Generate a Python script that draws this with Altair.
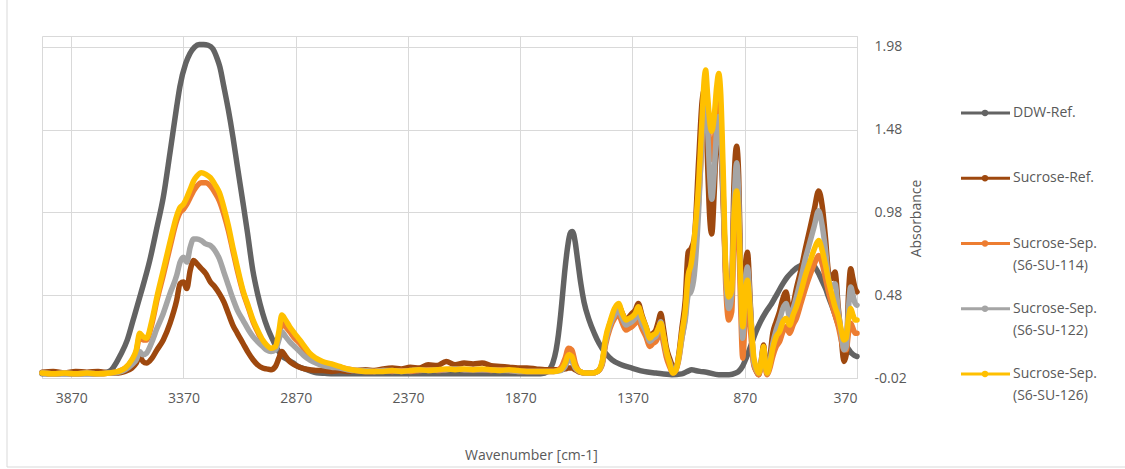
import altair as alt
import pandas as pd

# Series names, colours and legend text
series_names = [
    "DDW-Ref.",
    "Sucrose-Ref.",
    "Sucrose-Sep. (S6-SU-114)",
    "Sucrose-Sep. (S6-SU-122)",
    "Sucrose-Sep. (S6-SU-126)",
]
series_colors = ["#636363", "#9E480E", "#ED7D31", "#A5A5A5", "#FFC000"]
legend_line1 = ["DDW-Ref.", "Sucrose-Ref.", "Sucrose-Sep.", "Sucrose-Sep.", "Sucrose-Sep."]
legend_line2 = ["", "", "(S6-SU-114)", "(S6-SU-122)", "(S6-SU-126)"]

x_ticks = [3870, 3370, 2870, 2370, 1870, 1370, 870, 370]
y_ticks = [-0.02, 0.48, 0.98, 1.48, 1.98]

# DDW reference spectrum: wavenumber (cm-1) and absorbance
ddw_wn = [4000, 3900, 3800, 3740, 3710, 3690, 3670, 3650, 3620, 3594,
          3560, 3520, 3488, 3460, 3430, 3400, 3386, 3360, 3341, 3320,
          3300, 3280, 3260, 3240, 3220, 3208, 3190, 3170, 3150, 3130,
          3105, 3085, 3061, 3040, 3017, 2995, 2972, 2950, 2928, 2905,
          2880, 2860, 2830, 2800, 2777, 2740, 2700, 2600, 2500, 2400,
          2300, 2200, 2100, 2000, 1900, 1800, 1760, 1740, 1725, 1710,
          1700, 1690, 1683, 1672, 1662, 1652, 1645, 1639, 1632, 1625,
          1615, 1600, 1586, 1563, 1540, 1519, 1490, 1461, 1420, 1372,
          1320, 1266, 1195, 1150, 1125, 1106, 1090, 1070, 1040, 986,
          940, 910, 897, 880, 870, 855, 839, 820, 800, 775,
          750, 725, 700, 680, 660, 640, 620, 600, 585, 570,
          555, 540, 525, 510, 497, 483, 470, 453, 440, 430,
          420, 408, 398, 390, 380, 370]
ddw_abs = [0.005, 0.005, 0.005, 0.008, 0.015, 0.03, 0.07, 0.12, 0.21, 0.33,
           0.49, 0.69, 0.89, 1.07, 1.34, 1.62, 1.74, 1.88, 1.94, 1.98,
           1.995, 1.995, 1.99, 1.97, 1.91, 1.86, 1.74, 1.60, 1.44, 1.26,
           1.04, 0.86, 0.63, 0.49, 0.37, 0.28, 0.21, 0.15, 0.11, 0.09,
           0.07, 0.05, 0.035, 0.02, 0.012, 0.008, 0.005, 0.005, 0.005, 0.005,
           0.005, 0.005, 0.005, 0.005, 0.005, 0.005, 0.01, 0.03, 0.07, 0.15,
           0.24, 0.36, 0.46, 0.62, 0.74, 0.83, 0.86, 0.865, 0.85, 0.80,
           0.70, 0.55, 0.44, 0.33, 0.25, 0.19, 0.13, 0.09, 0.06, 0.04,
           0.02, 0.01, 0.0, 0.005, 0.02, 0.03, 0.025, 0.02, 0.015, 0.0,
           0.0, 0.01, 0.02, 0.05, 0.08, 0.13, 0.19, 0.26, 0.32, 0.38,
           0.43, 0.49, 0.55, 0.59, 0.62, 0.645, 0.66, 0.67, 0.675, 0.67,
           0.645, 0.61, 0.565, 0.52, 0.47, 0.42, 0.37, 0.30, 0.25, 0.21,
           0.18, 0.155, 0.135, 0.125, 0.115, 0.11]

# Shared wavenumber grid for the sucrose spectra, 4000-1800 cm-1
hi_wn = [4000, 3950, 3900, 3850, 3800, 3750, 3700, 3660, 3630, 3600,
         3580, 3565, 3550, 3535, 3510, 3488, 3460, 3430, 3400, 3385,
         3370, 3355, 3340, 3325, 3310, 3290, 3270, 3250, 3230, 3210,
         3190, 3170, 3150, 3130, 3105, 3080, 3060, 3040, 3017, 3000,
         2980, 2960, 2945, 2932, 2915, 2897, 2875, 2852, 2830, 2808,
         2780, 2750, 2710, 2675, 2640, 2600, 2560, 2520, 2480, 2440,
         2400, 2360, 2320, 2280, 2240, 2200, 2160, 2120, 2080, 2040,
         2000, 1960, 1920, 1880, 1840, 1800]

# Fingerprint grid, 1760-370 cm-1
fp_wn = [1760, 1720, 1690, 1670, 1655, 1640, 1625, 1605, 1580, 1550,
         1525, 1505, 1490, 1470, 1450, 1432, 1415, 1399, 1385, 1372,
         1358, 1344, 1328, 1310, 1292, 1278, 1266, 1255, 1244, 1232,
         1220, 1205, 1190, 1176, 1164, 1150, 1135, 1122, 1110, 1095,
         1075, 1060, 1050, 1044, 1036, 1026, 1017, 1006, 995, 986,
         977, 965, 955, 941, 928, 918, 906, 897, 888, 879,
         866, 858, 844, 830, 818, 808, 796, 786, 778, 770,
         760, 745, 730, 715, 700, 686, 670, 655, 640, 620,
         600, 580, 560, 541, 525, 510, 497, 483, 468, 453,
         440, 428, 418, 408, 398, 388, 378, 370]

ref_hi = [0.015, 0.02, 0.01, 0.02, 0.015, 0.02, 0.01, 0.01, 0.02, 0.04,
          0.07, 0.11, 0.08, 0.07, 0.10, 0.15, 0.21, 0.31, 0.45, 0.55,
          0.56, 0.52, 0.63, 0.69, 0.67, 0.64, 0.61, 0.56, 0.53, 0.49,
          0.44, 0.37, 0.30, 0.25, 0.19, 0.13, 0.09, 0.06, 0.04, 0.035,
          0.03, 0.05, 0.10, 0.14, 0.11, 0.08, 0.06, 0.045, 0.035, 0.03,
          0.025, 0.025, 0.02, 0.025, 0.02, 0.025, 0.03, 0.025, 0.035, 0.04,
          0.035, 0.045, 0.04, 0.06, 0.055, 0.08, 0.06, 0.07, 0.065, 0.07,
          0.055, 0.05, 0.045, 0.04, 0.04, 0.035]
ref_fp = [0.03, 0.03, 0.03, 0.035, 0.04, 0.04, 0.03, 0.015, 0.01, 0.01,
          0.02, 0.07, 0.20, 0.31, 0.38, 0.42, 0.37, 0.33, 0.35, 0.37,
          0.39, 0.43, 0.36, 0.29, 0.23, 0.25, 0.27, 0.32, 0.37, 0.28,
          0.17, 0.10, 0.05, 0.04, 0.12, 0.28, 0.45, 0.74, 0.76, 0.82,
          1.30, 1.65, 1.72, 1.66, 1.30, 0.95, 0.85, 1.10, 1.45, 1.50,
          1.38, 1.00, 0.62, 0.42, 0.55, 1.15, 1.38, 1.20, 0.62, 0.20,
          0.66, 0.74, 0.40, 0.07, 0.02, 0.0, 0.09, 0.18, 0.07, 0.02,
          0.08, 0.25, 0.32, 0.38, 0.46, 0.50, 0.38, 0.42, 0.52, 0.63,
          0.76, 0.88, 1.00, 1.11, 1.02, 0.82, 0.62, 0.58, 0.62, 0.40,
          0.22, 0.08, 0.12, 0.48, 0.64, 0.58, 0.52, 0.50]

su114_hi = [0.01, 0.005, 0.01, 0.005, 0.01, 0.005, 0.01, 0.02, 0.04, 0.085,
            0.14, 0.23, 0.21, 0.21, 0.31, 0.45, 0.60, 0.77, 0.93, 0.98,
            1.00, 1.03, 1.07, 1.11, 1.14, 1.16, 1.16, 1.14, 1.10, 1.05,
            0.97, 0.87, 0.75, 0.63, 0.50, 0.40, 0.32, 0.26, 0.20, 0.17,
            0.15, 0.16, 0.23, 0.31, 0.29, 0.26, 0.22, 0.19, 0.15, 0.12,
            0.09, 0.07, 0.055, 0.045, 0.035, 0.025, 0.02, 0.02, 0.025, 0.02,
            0.025, 0.02, 0.025, 0.03, 0.025, 0.03, 0.035, 0.03, 0.03, 0.03,
            0.025, 0.03, 0.025, 0.02, 0.02, 0.02]
su114_fp = [0.02, 0.02, 0.04, 0.10, 0.16, 0.15, 0.07, 0.02, 0.01, 0.01,
            0.02, 0.06, 0.18, 0.28, 0.34, 0.36, 0.31, 0.27, 0.28, 0.29,
            0.31, 0.33, 0.28, 0.23, 0.17, 0.19, 0.20, 0.23, 0.26, 0.19,
            0.11, 0.05, 0.01, 0.03, 0.09, 0.22, 0.35, 0.55, 0.60, 0.75,
            1.05, 1.42, 1.62, 1.66, 1.56, 1.40, 1.30, 1.40, 1.58, 1.66,
            1.55, 1.05, 0.55, 0.33, 0.38, 0.82, 1.02, 0.85, 0.40, 0.10,
            0.40, 0.48, 0.26, 0.06, 0.02, 0.0, 0.06, 0.14, 0.04, 0.0,
            0.03, 0.11, 0.17, 0.20, 0.26, 0.29, 0.25, 0.30, 0.34, 0.43,
            0.52, 0.60, 0.67, 0.72, 0.67, 0.58, 0.50, 0.43, 0.36, 0.29,
            0.21, 0.15, 0.15, 0.25, 0.31, 0.28, 0.25, 0.25]

su122_hi = [0.01, 0.005, 0.01, 0.005, 0.01, 0.005, 0.01, 0.015, 0.03, 0.06,
            0.09, 0.14, 0.12, 0.13, 0.20, 0.28, 0.37, 0.49, 0.60, 0.68,
            0.71, 0.68, 0.77, 0.82, 0.82, 0.81, 0.79, 0.78, 0.75, 0.70,
            0.62, 0.54, 0.46, 0.39, 0.33, 0.27, 0.23, 0.20, 0.17, 0.15,
            0.14, 0.15, 0.21, 0.26, 0.23, 0.20, 0.17, 0.14, 0.11, 0.09,
            0.07, 0.055, 0.045, 0.04, 0.03, 0.025, 0.025, 0.02, 0.025, 0.025,
            0.02, 0.025, 0.03, 0.025, 0.03, 0.03, 0.035, 0.03, 0.03, 0.03,
            0.03, 0.025, 0.025, 0.02, 0.02, 0.02]
su122_fp = [0.02, 0.02, 0.025, 0.05, 0.09, 0.08, 0.04, 0.02, 0.01, 0.01,
            0.02, 0.07, 0.20, 0.30, 0.36, 0.39, 0.34, 0.30, 0.31, 0.32,
            0.34, 0.37, 0.31, 0.26, 0.20, 0.22, 0.23, 0.27, 0.32, 0.23,
            0.14, 0.08, 0.03, 0.04, 0.10, 0.22, 0.33, 0.48, 0.50, 0.60,
            1.00, 1.45, 1.65, 1.68, 1.50, 1.20, 1.06, 1.22, 1.48, 1.56,
            1.45, 1.05, 0.62, 0.40, 0.48, 1.00, 1.28, 1.08, 0.55, 0.22,
            0.58, 0.65, 0.38, 0.08, 0.03, 0.01, 0.08, 0.16, 0.06, 0.01,
            0.06, 0.19, 0.27, 0.33, 0.40, 0.43, 0.35, 0.40, 0.47, 0.58,
            0.70, 0.80, 0.90, 0.99, 0.90, 0.75, 0.58, 0.53, 0.55, 0.38,
            0.25, 0.15, 0.17, 0.40, 0.53, 0.48, 0.43, 0.42]

su126_hi = [0.01, 0.005, 0.01, 0.005, 0.01, 0.005, 0.01, 0.02, 0.04, 0.09,
            0.15, 0.25, 0.23, 0.22, 0.33, 0.47, 0.63, 0.80, 0.96, 1.01,
            1.03, 1.07, 1.12, 1.17, 1.20, 1.22, 1.21, 1.19, 1.15, 1.10,
            1.01, 0.90, 0.77, 0.65, 0.51, 0.41, 0.33, 0.27, 0.21, 0.18,
            0.16, 0.17, 0.26, 0.36, 0.33, 0.29, 0.25, 0.21, 0.17, 0.13,
            0.10, 0.08, 0.065, 0.05, 0.035, 0.025, 0.02, 0.02, 0.02, 0.025,
            0.02, 0.025, 0.03, 0.025, 0.03, 0.035, 0.03, 0.035, 0.03, 0.035,
            0.03, 0.025, 0.03, 0.025, 0.02, 0.02]
su126_fp = [0.02, 0.02, 0.03, 0.07, 0.12, 0.11, 0.05, 0.02, 0.01, 0.01,
            0.02, 0.08, 0.22, 0.32, 0.40, 0.43, 0.37, 0.33, 0.34, 0.35,
            0.37, 0.41, 0.35, 0.29, 0.22, 0.24, 0.25, 0.28, 0.31, 0.24,
            0.15, 0.07, 0.01, 0.03, 0.11, 0.25, 0.39, 0.60, 0.66, 0.82,
            1.16, 1.55, 1.79, 1.84, 1.70, 1.53, 1.47, 1.56, 1.74, 1.82,
            1.70, 1.18, 0.66, 0.47, 0.51, 0.95, 1.11, 0.95, 0.55, 0.29,
            0.51, 0.57, 0.35, 0.11, 0.04, 0.01, 0.08, 0.17, 0.06, 0.01,
            0.05, 0.16, 0.23, 0.26, 0.32, 0.34, 0.30, 0.36, 0.41, 0.50,
            0.60, 0.68, 0.76, 0.81, 0.75, 0.66, 0.57, 0.49, 0.41, 0.35,
            0.27, 0.21, 0.22, 0.34, 0.40, 0.36, 0.33, 0.33]

# Assemble the long table used by every line
sucrose_wn = hi_wn + fp_wn
spectra = {
    series_names[0]: (ddw_wn, ddw_abs),
    series_names[1]: (sucrose_wn, ref_hi + ref_fp),
    series_names[2]: (sucrose_wn, su114_hi + su114_fp),
    series_names[3]: (sucrose_wn, su122_hi + su122_fp),
    series_names[4]: (sucrose_wn, su126_hi + su126_fp),
}
rows = []
for name, (wns, vals) in spectra.items():
    assert len(wns) == len(vals), name
    rows += [{"name": name, "wn": w, "absorbance": v} for w, v in zip(wns, vals)]
df = pd.DataFrame(rows)

legend_df = pd.DataFrame({"name": series_names, "line1": legend_line1, "line2": legend_line2})

FONT = "Open Sans"
TEXT = "#595959"
GRID = "#D9D9D9"

color = alt.Color("name:N", scale=alt.Scale(domain=series_names, range=series_colors), legend=None)

x_enc = alt.X(
    "wn:Q",
    scale=alt.Scale(domain=[370, 4000], reverse=True, nice=False, zero=False),
    axis=alt.Axis(
        values=x_ticks, format="d", title="Wavenumber [cm-1]",
        grid=True, gridColor=GRID, ticks=False, domain=True, domainColor=GRID,
        labelPadding=13, labelFontSize=14, labelColor=TEXT,
        titleFontSize=14, titleColor=TEXT, titleFontWeight="normal",
        titleX=489, titleY=77, titleAlign="center", titleBaseline="middle",
    ),
)
y_enc = alt.Y(
    "absorbance:Q",
    scale=alt.Scale(domain=[-0.02, 2.046], nice=False, zero=False),
    axis=alt.Axis(
        orient="right", values=y_ticks, title="Absorbance",
        labelExpr="replace(format(datum.value, '.2f'), '\u2212', '-')",
        grid=True, gridColor=GRID, ticks=False, domain=False,
        labelPadding=17, labelFontSize=14, labelColor=TEXT,
        titleFontSize=14, titleColor=TEXT, titleFontWeight="normal",
        titleAngle=270, titleX=59, titleY=182, titleAlign="center", titleBaseline="middle",
    ),
)

# One layer per series so later series are drawn on top
line_layers = [
    alt.Chart(df)
    .transform_filter(alt.datum.name == name)
    .mark_line(strokeWidth=5.5, interpolate="monotone", strokeCap="round", strokeJoin="round")
    .encode(x=x_enc, y=y_enc, color=color, order=alt.Order("wn:Q", sort="descending"))
    for name in series_names
]
lines = alt.layer(*line_layers)

# Legend drawn from the series table: line, dot and one or two text rows
leg_y = alt.Y("name:N", scale=alt.Scale(type="point", domain=series_names, range=[77, 338], padding=0), axis=None)
leg_base = alt.Chart(legend_df)
legend = alt.layer(
    leg_base.mark_rule(strokeWidth=3).encode(x=alt.value(919), x2=alt.value(968), y=leg_y, color=color),
    leg_base.mark_circle(size=40, opacity=1).encode(x=alt.value(943), y=leg_y, color=color),
    leg_base.mark_text(align="left", baseline="middle", fontSize=14, font=FONT, color=TEXT).encode(
        x=alt.value(971), y=leg_y, text="line1:N"),
    leg_base.mark_text(align="left", baseline="middle", fontSize=14, font=FONT, color=TEXT, dy=22).encode(
        x=alt.value(971), y=leg_y, text="line2:N"),
)

# Chart-area frame (left and bottom edges)
frame_df = pd.DataFrame({"k": [0]})
frame = alt.layer(
    alt.Chart(frame_df).mark_rule(color=GRID, strokeWidth=1).encode(
        x=alt.value(-35), y=alt.value(-36), y2=alt.value(431)),
    alt.Chart(frame_df).mark_rule(color=GRID, strokeWidth=1).encode(
        x=alt.value(-35), x2=alt.value(1100), y=alt.value(431)),
)

chart = (
    alt.layer(frame, lines, legend)
    .resolve_scale(y="independent")
    .properties(
        width=815, height=342,
        padding={"left": 42, "top": 36, "right": 268, "bottom": 91},
        autosize=alt.AutoSizeParams(type="none"),
        background="white",
    )
    .configure(font=FONT)
    .configure_view(stroke=GRID, strokeWidth=1)
)

chart.save("out.html", embed_options={"renderer": "svg", "actions": False})
